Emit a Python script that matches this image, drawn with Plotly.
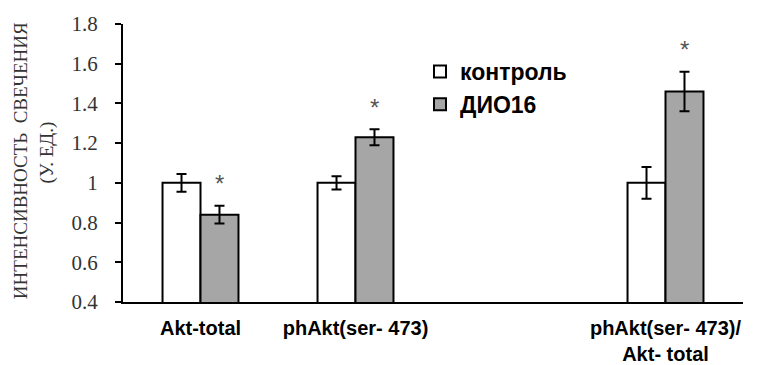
import plotly.graph_objects as go

# Data
categories = ["Akt-total", "phAkt(ser- 473)", "phAkt(ser- 473)/<br>Akt- total"]
cat_pos = [0, 1, 3]          # an empty slot sits between the 2nd and 3rd groups
control = [1.00, 1.00, 1.00]
control_err = [0.045, 0.033, 0.08]
dio16 = [0.84, 1.23, 1.46]
dio16_err = [0.045, 0.04, 0.10]
significant = [True, True, True]
y_ticks = [0.4, 0.6, 0.8, 1.0, 1.2, 1.4, 1.6, 1.8]
y_tick_text = ["0.4", "0.6", "0.8", "1", "1.2", "1.4", "1.6", "1.8"]

serif = "Liberation Serif, Times New Roman, serif"
sans = "Liberation Sans, Arial, sans-serif"

fig = go.Figure()
fig.add_trace(go.Bar(
    x=cat_pos, y=control, name="контроль",
    marker=dict(color="white", line=dict(color="black", width=2)),
    error_y=dict(type="data", array=control_err, color="black", thickness=2, width=5),
))
fig.add_trace(go.Bar(
    x=cat_pos, y=dio16, name="ДИО16",
    marker=dict(color="#a6a6a6", line=dict(color="black", width=2)),
    error_y=dict(type="data", array=dio16_err, color="black", thickness=2, width=5),
))

# significance asterisks above the ДИО16 bars
bargap = 0.51
half = (1 - bargap) / 4
for xp, v, e, s in zip(cat_pos, dio16, dio16_err, significant):
    if s:
        fig.add_annotation(x=xp + half, y=v + e + 0.12, xref="x", yref="y",
                           text="*", showarrow=False, yshift=-2,
                           font=dict(family=sans, size=24, color="#555555"))

# two-line y-axis title
fig.add_annotation(xref="paper", yref="paper", x=-0.166, y=0.507, xanchor="center", yanchor="middle",
                   text="ИНТЕНСИВНОСТЬ  СВЕЧЕНИЯ", textangle=-90, showarrow=False,
                   font=dict(family=serif, size=19, color="#333333"))
fig.add_annotation(xref="paper", yref="paper", x=-0.1226, y=0.538, xanchor="center", yanchor="middle",
                   text="(У. ЕД.)", textangle=-90, showarrow=False,
                   font=dict(family=serif, size=19, color="#333333"))

fig.update_layout(
    width=768, height=365,
    margin=dict(l=123, r=25, t=24, b=63),
    paper_bgcolor="white", plot_bgcolor="white",
    barmode="group", bargap=bargap, bargroupgap=0,
    showlegend=True,
    legend=dict(x=(420 - 123) / 620, y=(302 - 50) / 278, xanchor="left", yanchor="top",
                bgcolor="rgba(0,0,0,0)", font=dict(family=sans, size=23, color="black", weight="bold"),
                itemwidth=30, tracegroupgap=2),
    xaxis=dict(range=[-0.5, 3.5], tickvals=cat_pos, ticktext=categories, automargin=False,
               showline=True, linecolor="black", linewidth=2, ticks="",
               showgrid=False, zeroline=False, ticklabelstandoff=7,
               tickfont=dict(family=sans, size=20, color="black", weight="bold")),
    yaxis=dict(range=[0.4, 1.8], tickvals=y_ticks, ticktext=y_tick_text, automargin=False,
               showline=True, linecolor="black", linewidth=2, ticks="outside",
               ticklen=6, tickwidth=2, tickcolor="black", showgrid=False, zeroline=False,
               ticklabelstandoff=13,
               tickfont=dict(family=serif, size=21, color="#333333")),
)

fig.write_html("out.html")
